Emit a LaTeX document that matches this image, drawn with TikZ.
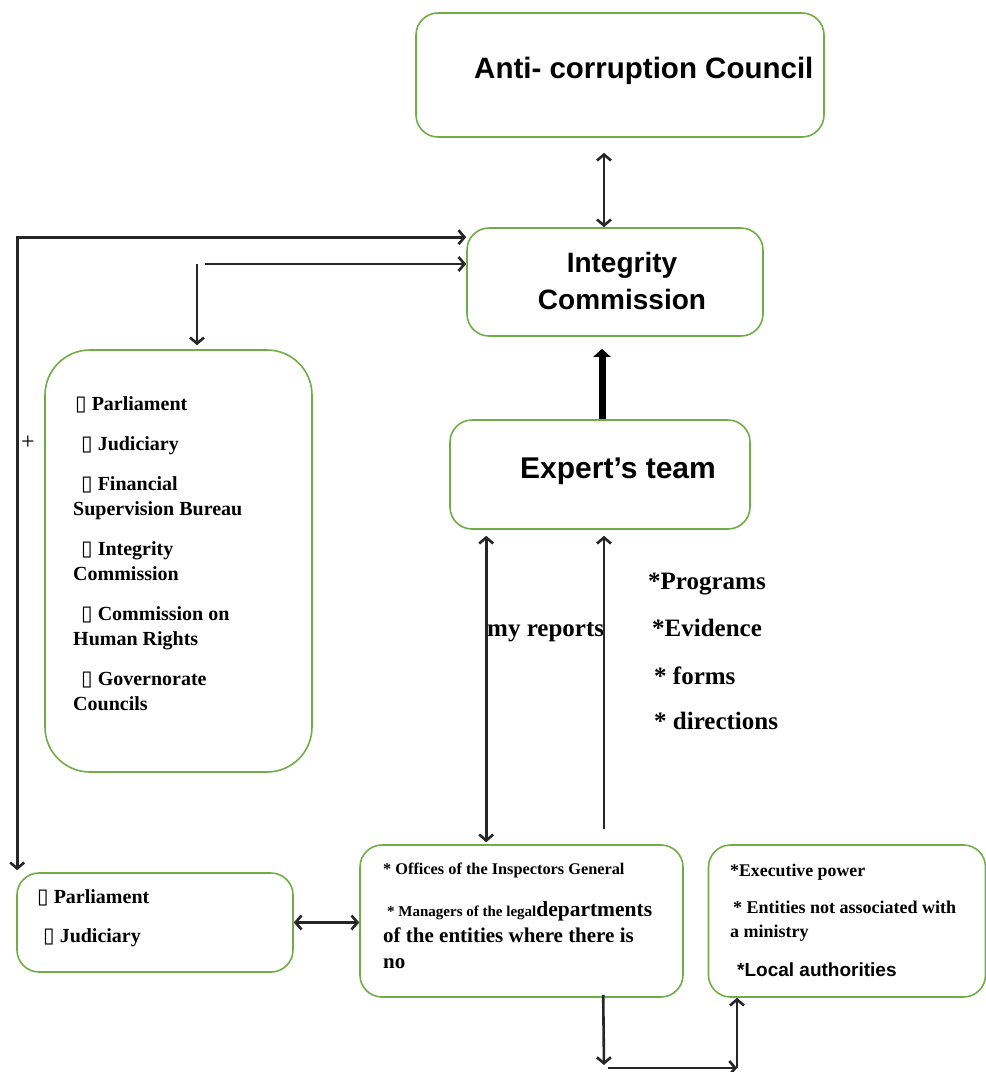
\documentclass[tikz,border=0pt]{standalone}
\usepackage{fontspec}
\setmainfont{Liberation Serif}
\newfontfamily\headfont{Liberation Sans}
\newfontfamily\glyphfont{DejaVu Sans}
\usetikzlibrary{arrows.meta,positioning}
\definecolor{boxgreen}{RGB}{112,173,71}
\newcommand{\fs}[2]{\fontsize{#1}{#2}\selectfont}
\newcommand{\nobox}{{\glyphfont\mdseries\fs{21}{21}▯}}

\begin{document}
\begin{tikzpicture}[x=1pt,y=-1pt,
    panel/.style={draw=boxgreen,line width=1.6pt,rounded corners=22pt,inner sep=0pt},
    link/.style={line width=2.6pt,draw=black!85,>={Straight Barb[length=6pt,width=14pt]}},
    head/.style={font=\headfont\bfseries\fs{29}{37},inner sep=0pt},
    item/.style={font=\bfseries,inner sep=0pt,align=left}]
\useasboundingbox (0,0) rectangle (986,1072);

% boxes
\node[panel,minimum width=408pt,minimum height=124pt] (council) at (620,75) {};
\node[panel,minimum width=296pt,minimum height=108pt] (integ) at (615,282) {};
\node[panel,minimum width=300pt,minimum height=109pt] (expert) at (600,474.5) {};
\node[panel,rounded corners=45pt,minimum width=267pt,minimum height=422pt] (lbox) at (178.5,561) {};
\node[panel,minimum width=276pt,minimum height=99pt] (parl) at (155,922.5) {};
\node[panel,minimum width=323pt,minimum height=152pt] (mid) at (521.5,921) {};
\node[panel,minimum width=277pt,minimum height=152pt] (rbox) at (847,921) {};

% box texts
\node[head,font=\headfont\bfseries\fs{29.5}{37},anchor=base west] (counciltxt) at (474,78) {Anti- corruption Council};
\node[head,font=\headfont\bfseries\fs{28}{37},align=center] (integtxt) at (622,281) {Integrity\\Commission};
\node[head,font=\headfont\bfseries\fs{30}{37},anchor=base west] (experttxt) at (520,478) {Expert’s team};

\node[item,font=\bfseries\fs{20}{25},anchor=north west] (bodylist) at (73,396.3) {%
  \hspace*{2pt}\nobox\ Parliament\\[15pt]
  \hspace*{8pt}\nobox\ Judiciary\\[15pt]
  \hspace*{8pt}\nobox\ Financial\\
  Supervision Bureau\\[15pt]
  \hspace*{8pt}\nobox\ Integrity\\
  Commission\\[15pt]
  \hspace*{8pt}\nobox\ Commission on\\
  Human Rights\\[15pt]
  \hspace*{8pt}\nobox\ Governorate\\
  Councils};

\node[item,font=\bfseries\fs{20}{25},anchor=north west] (parltxt) at (37,889.3) {%
  \nobox\ Parliament\\[14pt]
  \hspace*{6pt}\nobox\ Judiciary};

\node[item,font=\bfseries\fs{16.3}{20},anchor=base west] (mid1) at (383,874) {* Offices of the Inspectors General};
\node[item,anchor=base west] (mid2) at (387,916) {{\bfseries\fs{15}{18}* Managers of the legal}{\bfseries\fs{21.5}{25}departments}};
\node[item,font=\bfseries\fs{21}{25},anchor=base west] (mid3) at (383,942) {of the entities where there is};
\node[item,font=\bfseries\fs{21}{25},anchor=base west] (mid4) at (383,968) {no};

\node[item,font=\bfseries\fs{17.8}{21},anchor=base west] (r1) at (730,876) {*Executive power};
\node[item,font=\bfseries\fs{18}{21},anchor=base west] (r2) at (733,913) {* Entities not associated with};
\node[item,font=\bfseries\fs{18}{21},anchor=base west] (r3) at (730,937) {a ministry};
\node[item,font=\headfont\bfseries\fs{19}{23},anchor=base west] (r4) at (737,976) {*Local authorities};

% side labels
\node[item,font=\bfseries\fs{25}{28},anchor=base west] (reports) at (487,636) {my reports};
\node[item,font=\bfseries\fs{25}{28},anchor=base west] (prog) at (648,589) {*Programs};
\node[item,font=\bfseries\fs{25}{28},anchor=base west] (evid) at (652,636) {*Evidence};
\node[item,font=\bfseries\fs{25}{28},anchor=base west] (forms) at (654,684) {* forms};
\node[item,font=\bfseries\fs{25}{28},anchor=base west] (direc) at (654,729) {* directions};
\node[inner sep=0pt,font=\fs{24}{26}] (plus) at (28,443) {+};

% connectors
\draw[link,<->,shorten <=15pt] ([xshift=-11pt]integ.north |- council.south) -- ([xshift=-11pt]integ.north);
\draw[link,<->,shorten >=2pt] ([yshift=-10pt]integ.north west) -| ([xshift=1pt]parl.north west);
\coordinate (fork) at (201,264);
\draw[link,->] ([xshift=4pt]fork) -- (fork -| integ.west);
\draw[link,->,shorten >=4pt] ([xshift=-4pt]fork) -- ([xshift=-4pt]fork |- lbox.north);
\draw[line width=7pt,-{Triangle[width=17pt,length=8pt]},shorten >=12pt] ([xshift=2pt]expert.north) -- ([xshift=2pt]expert.north |- integ.south);
\draw[link,<->,shorten <=6pt,shorten >=2pt] ([xshift=37pt]expert.south west) -- ([xshift=37pt]expert.south west |- mid.north);
\draw[link,->,shorten <=15pt,shorten >=6pt] ([xshift=4pt]expert.south |- mid.north) -- ([xshift=4pt]expert.south);
\draw[link,<->] (parl.east) -- (parl.east -| mid.west);
\coordinate (low) at (604,1065);
\coordinate (corner) at (737,1068);
\draw[link,->] ([xshift=244pt,yshift=3pt]mid.south west) -- (low);
\draw[link,->] ([xshift=4pt,yshift=-3pt]low) -- (corner);
\draw[link,->] (corner) -- (corner |- rbox.south);
\end{tikzpicture}
\end{document}
